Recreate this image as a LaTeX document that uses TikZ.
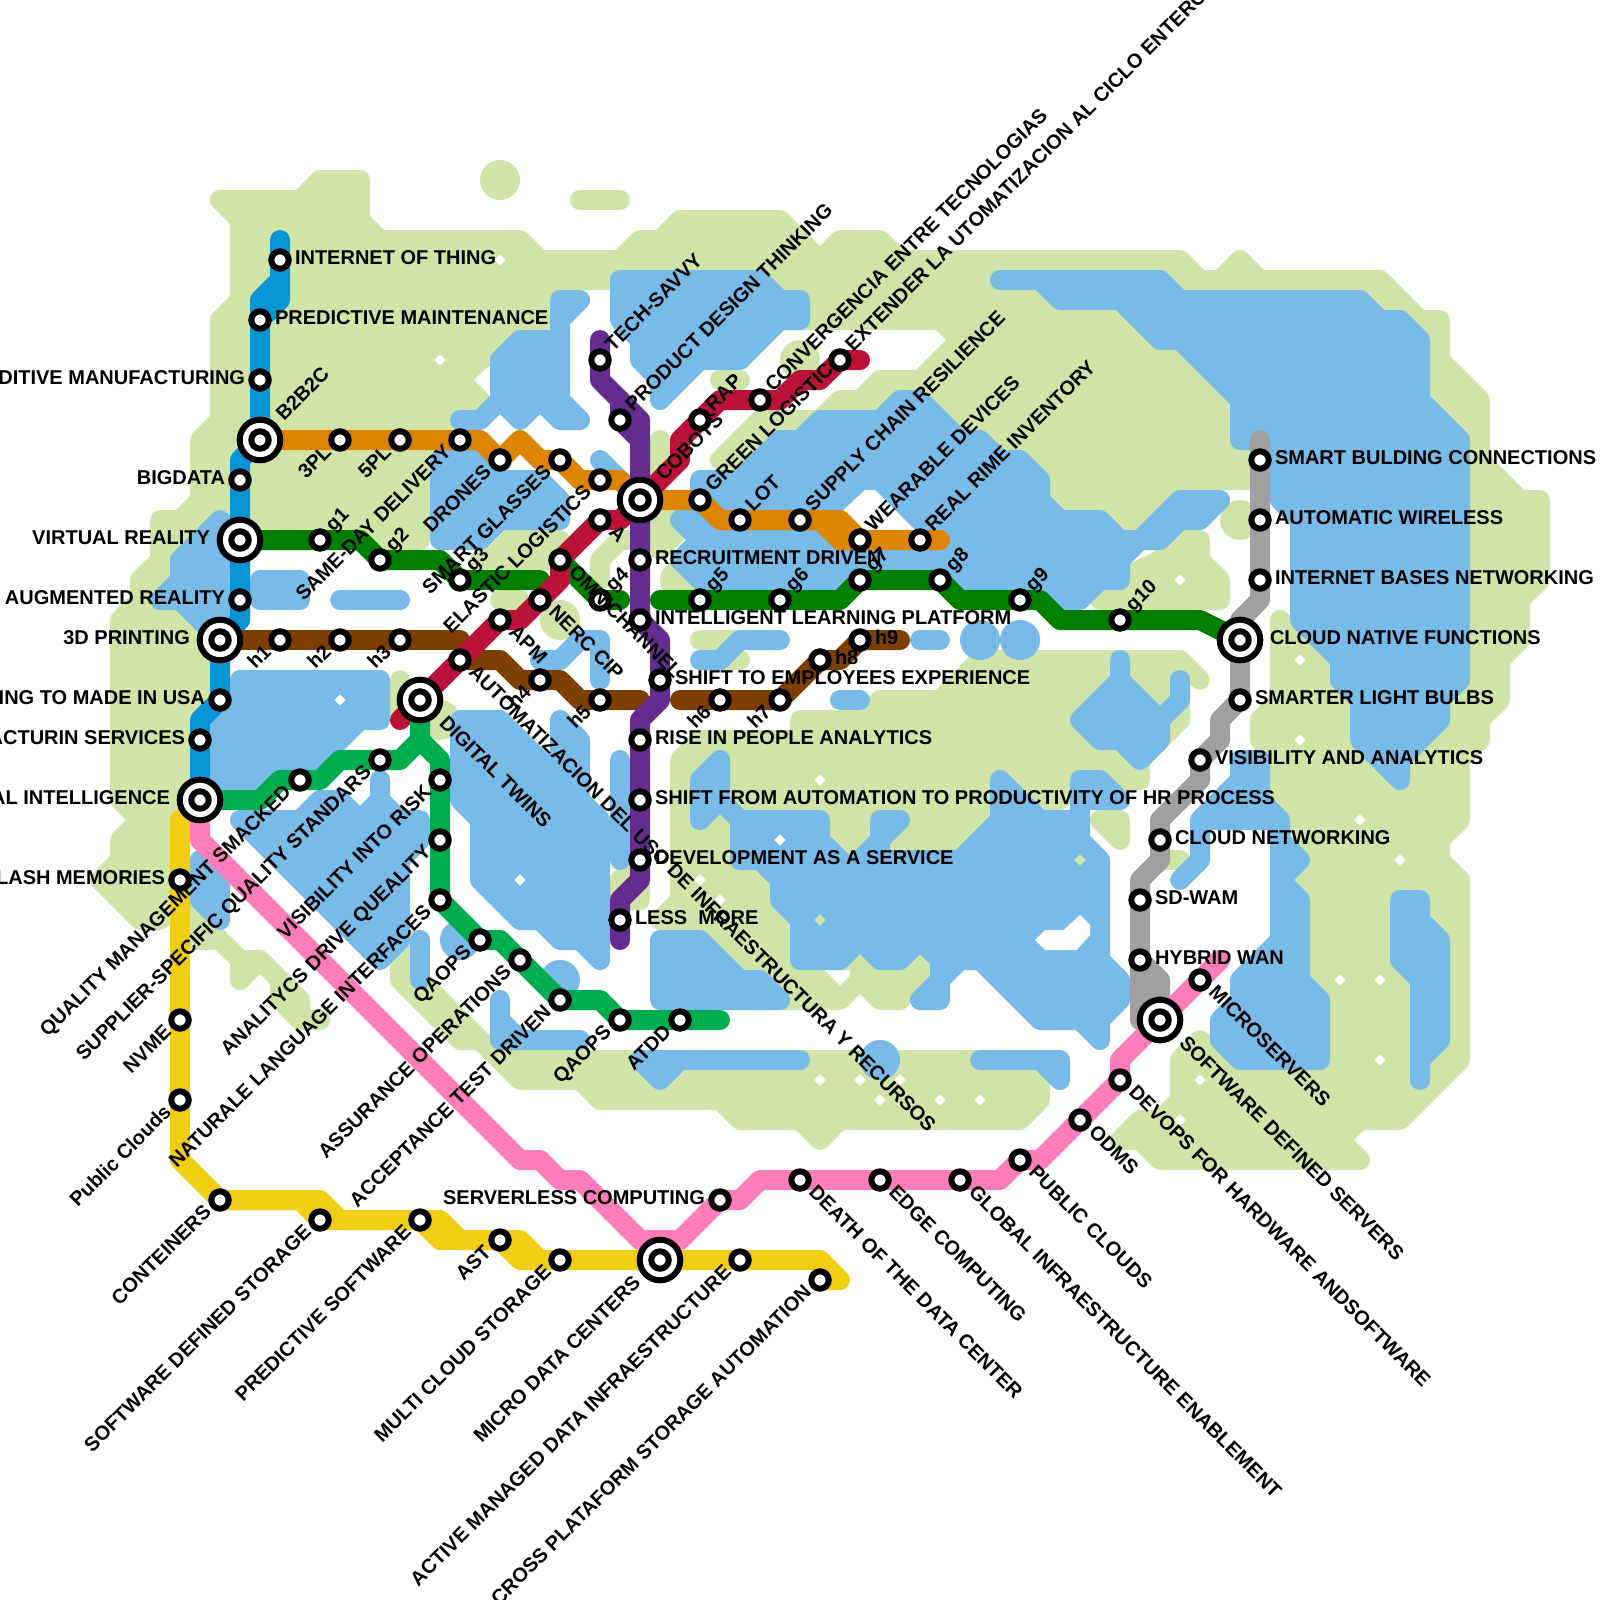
\documentclass[tikz,border=0pt]{standalone}
\usepackage{fontspec}
\setmainfont{Liberation Sans}
\usetikzlibrary{calc}
\pgfdeclarelayer{map}
\pgfsetlayers{map,main}
\definecolor{landc}{RGB}{208,228,168}
\definecolor{lakec}{RGB}{121,187,232}
\definecolor{lnblue}{RGB}{9,150,214}
\definecolor{lnorange}{RGB}{221,133,0}
\definecolor{lngreen}{RGB}{0,127,0}
\definecolor{lnbrown}{RGB}{124,63,0}
\definecolor{lnred}{RGB}{187,18,58}
\definecolor{lnpurple}{RGB}{101,44,144}
\definecolor{lnlime}{RGB}{0,174,80}
\definecolor{lnyellow}{RGB}{240,206,20}
\definecolor{lnpink}{RGB}{255,124,187}
\definecolor{lngray}{RGB}{160,160,160}

\begin{document}
\begin{tikzpicture}[
  x=20pt, y=-20pt,
  land/.style={fill=landc, draw=landc, line width=20pt, line join=round, line cap=round},
  lake/.style={fill=lakec, draw=lakec, line width=20pt, line join=round, line cap=round},
  landln/.style={draw=landc, line width=20pt, line join=round, line cap=round},
  lakeln/.style={draw=lakec, line width=20pt, line join=round, line cap=round},
  metro/.style={line width=20pt, line join=round, line cap=round},
  stn/.style={circle, draw=black, fill=white, line width=6pt, minimum size=17.4pt, inner sep=0pt, outer sep=0pt},
  hub/.style={circle, draw=black, fill=white, line width=6pt, minimum size=40.6pt, inner sep=0pt, outer sep=0pt,
              path picture={\draw[line width=6pt, fill=white] (path picture bounding box.center) circle (8.7pt);}},
  lb/.style={font=\fontsize{20}{24}\bfseries\selectfont, inner sep=0pt, outer sep=0pt},
  lbr/.style={lb, anchor=base west, xshift=15pt, yshift=-4pt},
  lbl/.style={lb, anchor=base east, xshift=-15pt, yshift=-4pt},
  lbrf/.style={lb, anchor=base west, xshift=30pt, yshift=-4pt},
  lblf/.style={lb, anchor=base east, xshift=-30pt, yshift=-4pt},
  lbur/.style={lb, anchor=base west, rotate=45, xshift=15pt, yshift=-4pt},
  lburf/.style={lb, anchor=base west, rotate=45, xshift=30pt, yshift=-4pt},
  lbdl/.style={lb, anchor=base east, rotate=45, xshift=-15pt, yshift=-4pt},
  lbdlf/.style={lb, anchor=base east, rotate=45, xshift=-30pt, yshift=-4pt},
  lbdr/.style={lb, anchor=base west, rotate=-45, xshift=15pt, yshift=-4pt},
  lbdrf/.style={lb, anchor=base west, rotate=-45, xshift=30pt, yshift=-4pt}
]
\useasboundingbox (0,0) rectangle (80,80);

% stations
\foreach \n/\x/\y/\s/\k/\t in {
  iot/14/13/stn/lbr/INTERNET OF THING, pm/13/16/stn/lbr/PREDICTIVE MAINTENANCE,
  am/13/19/stn/lbl/DITIVE MANUFACTURING, bb/13/22/hub/lburf/B2B2C,
  bd/12/24/stn/lbl/BIGDATA, vr/12/27/hub/lblf/VIRTUAL REALITY,
  ar/12/30/stn/lbl/AUGMENTED REALITY, tdp/11/32/hub/lblf/3D PRINTING,
  usa/11/35/stn/lbl/ING TO MADE IN USA, mfs/10/37/stn/lbl/ACTURIN SERVICES,
  ai/10/40/hub/lblf/AL INTELLIGENCE,
  tpl/17/22/stn/lbdl/3PL, fpl/20/22/stn/lbdl/5PL, sdd/23/22/stn/lbdl/SAME-DAY DELIVERY,
  drn/25/23/stn/lbdl/DRONES, sg/28/23/stn/lbdl/SMART GLASSES, el/30/24/stn/lbdl/ELASTIC LOGISTICS,
  cob/32/25/hub/lburf/COBOTS, gl/35/25/stn/lbur/GREEN LOGISTIC, lot/37/26/stn/lbur/LOT,
  scr/40/26/stn/lbur/SUPPLY CHAIN RESILIENCE, wd/43/27/stn/lbur/WEARABLE DEVICES,
  rri/46/27/stn/lbur/REAL RIME INVENTORY,
  g1/16/27/stn/lbur/g1, g2/19/28/stn/lbur/g2, g3/23/29/stn/lbur/g3, g4/30/30/stn/lbur/g4,
  g5/35/30/stn/lbur/g5, g6/39/30/stn/lbur/g6, g7/43/29/stn/lbur/g7, g8/47/29/stn/lbur/g8,
  g9/51/30/stn/lbur/g9, g10/56/31/stn/lbur/g10, cnf/62/32/hub/lbrf/CLOUD NATIVE FUNCTIONS,
  h1/14/32/stn/lbdl/h1, h2/17/32/stn/lbdl/h2, h3/20/32/stn/lbdl/h3, h4/27/34/stn/lbdl/h4,
  h5/30/35/stn/lbdl/h5, h6/36/35/stn/lbdl/h6, h7/39/35/stn/lbdl/h7, h8/41/33/stn/lbr/h8, h9/43/32/stn/lbr/h9,
  dt/21/35/hub/lbdrf/DIGITAL TWINS, auto/23/33/stn/lbdr/AUTOMATIZACION DEL USO DE INFRAESTRUCTURA Y RECURSOS,
  apm/25/31/stn/lbdr/APM, nerc/27/30/stn/lbdr/NERC CIP, omni/28/28/stn/lbdr/OMNICHANNEL, aa/30/26/stn/lbdr/A,
  rap/35/21/stn/lbur/RAP, conv/38/20/stn/lbur/CONVERGENCIA ENTRE TECNOLOGIAS,
  ext/42/18/stn/lbur/EXTENDER LA UTOMATIZACION AL CICLO ENTERO,
  tech/30/18/stn/lbur/TECH-SAVVY, pdt/31/21/stn/lbur/PRODUCT DESIGN THINKING,
  rec/32/28/stn/lbr/RECRUITMENT DRIVEN, ilp/32/31/stn/lbr/INTELLIGENT LEARNING PLATFORM,
  emp/33/34/stn/lbr/SHIFT TO EMPLOYEES EXPERIENCE, rise/32/37/stn/lbr/RISE IN PEOPLE ANALYTICS,
  hr/32/40/stn/lbr/SHIFT FROM AUTOMATION TO PRODUCTIVITY OF HR PROCESS,
  daas/32/43/stn/lbr/DEVELOPMENT AS A SERVICE, less/31/46/stn/lbr/LESS\ \ MORE,
  qms/15/39/stn/lbdl/QUALITY MANAGEMENT SMACKED, sqs/19/38/stn/lbdl/SUPPLIER-SPECIFIC QUALITY STANDARS,
  vir/22/39/stn/lbdl/VISIBILITY INTO RISK, adq/22/42/stn/lbdl/ANALITYCS DRIVE QUEALITY,
  nli/22/45/stn/lbdl/NATURALE LANGUAGE INTERFACES, qa1/24/47/stn/lbdl/QAOPS,
  aop/26/48/stn/lbdl/ASSURANCE OPERATIONS, atd/28/50/stn/lbdl/ACCEPTANCE TEST DRIVEN,
  qa2/31/51/stn/lbdl/QAOPS, atdd/34/51/stn/lbdl/ATDD,
  flash/9/44/stn/lbl/LASH MEMORIES, nvme/9/51/stn/lbdl/NVME, pub/9/55/stn/lbdl/Public Clouds,
  cont/11/60/stn/lbdl/CONTEINERS, sds/16/61/stn/lbdl/SOFTWARE DEFINED STORAGE,
  ps/21/61/stn/lbdl/PREDICTIVE SOFTWARE, ast/25/62/stn/lbdl/AST, mcs/28/63/stn/lbdl/MULTI CLOUD STORAGE,
  mdc/33/63/hub/lbdlf/MICRO DATA CENTERS, amd/37/63/stn/lbdl/ACTIVE MANAGED DATA INFRAESTRUCTURE,
  cps/41/64/stn/lbdl/CROSS PLATAFORM STORAGE AUTOMATION,
  sls/36/60/stn/lbl/SERVERLESS COMPUTING, dod/40/59/stn/lbdr/DEATH OF THE DATA CENTER,
  edg/44/59/stn/lbdr/EDGE COMPUTING, gie/48/59/stn/lbdr/GLOBAL INFRAESTRUCTURE ENABLEMENT,
  pcl/51/58/stn/lbdr/PUBLIC CLOUDS, odms/54/56/stn/lbdr/ODMS, devo/56/54/stn/lbdr/DEVOPS FOR HARDWARE ANDSOFTWARE,
  sdsv/58/51/hub/lbdrf/SOFTWARE DEFINED SERVERS, micro/60/49/stn/lbdr/MICROSERVERS,
  sbc/63/23/stn/lbr/SMART BULDING CONNECTIONS, awl/63/26/stn/lbr/AUTOMATIC WIRELESS,
  ibn/63/29/stn/lbr/INTERNET BASES NETWORKING, slb/62/35/stn/lbr/SMARTER LIGHT BULBS,
  vis/60/38/stn/lbr/VISIBILITY AND ANALYTICS, cnw/58/42/stn/lbr/CLOUD NETWORKING,
  sdw/57/45/stn/lbr/SD-WAM, hyb/57/48/stn/lbr/HYBRID WAN}
{
  \node[\s] (\n) at (\x,\y) {};
  \node[\k] (\n-t) at (\x,\y) {\t};
}

\begin{pgfonlayer}{map}
% land
\draw[land] plot coordinates {(11,10) (15,10) (16,9) (18,9) (18,11) (19,12) (26,12) (27,13) (31,13) (32,12) (33,12) (34,11) (39,11) (41,13) (42,12) (44,12) (45,13) (59,13) (60,14) (61,14) (62,13) (63,14) (69,14) (71,16) (72,16) (72,18) (74,20) (74,23) (76,25) (77,25) (77,29) (76,30) (76,32) (75,33) (75,35) (74,36) (74,37) (73,38) (73,41) (72,42) (72,43) (73,44) (73,53) (70,56) (68,56) (67,57) (68,58) (58,58) (57,57) (56,57) (57,56) (58,56) (59,55) (59,53) (60,52) (61,53) (63,52) (65,48) (65,41) (64,40) (64,38) (63,37) (63,36) (64,35) (64,31) (65,32) (65,24) (60,24) (59,25) (56,27) (50,27) (48,24) (44,24) (41,24) (39,23) (36,23) (38,21) (41,21) (42,20) (43,20) (44,19) (46,19) (48,17) (47,16) (40,16) (38,14) (30,14) (28,14) (28,16) (26,17) (24,18) (23,19) (24,20) (22,22) (21,23) (21,27) (12,27) (12,31) (10,33) (10,40) (9,41) (9,45) (8,46) (7,46) (5,44) (6,43) (6,42) (7,41) (6,40) (6,31) (7,30) (7,29) (8,28) (8,26) (9,26) (10,25) (10,22) (11,21) (11,16) (12,15) (12,11)} -- cycle;
\draw[land] plot coordinates {(34,38) (35,37) (39,37) (40,37) (40,36) (43,36) (44,35) (47,35) (49,33) (59,33) (60,34) (59,33) (59,36) (58,37) (57,38) (57,39) (54,39) (53,40) (52,40) (50,46) (48,48) (40,48) (38,48) (37,48) (35,46) (33,46) (34,45)} -- cycle;
\draw[land] plot coordinates {(43,48) (46,48) (46,49) (45,50) (44,50) (43,49)} -- cycle;
\draw[land] plot coordinates {(38,48) (40,48) (41,49) (42,50) (43,49) (42,50) (38,50)} -- cycle;
\draw[land] plot coordinates {(20,47) (20,49) (23,52) (24,52) (26,54) (29,54) (30,55) (36,55) (37,56) (40,56) (41,57) (42,56) (51,56) (52,55) (52,54) (51,53) (25,53) (21,49) (21,47)} -- cycle;
\draw[land] plot coordinates {(9,45) (12,48) (13,48) (15,50) (15,51) (16,51) (15,51) (14,50) (14,49) (13,48) (12,49) (12,48) (11,47) (9,47)} -- cycle;
\draw[land] plot coordinates {(59,27) (60,27) (60,28) (61,29) (61,30) (55,30) (56,29) (58,28)} -- cycle;
\draw[land] plot coordinates {(25,27) (28,27) (28,28) (24,28)} -- cycle;
\draw[land] plot coordinates {(33,26) (34,26) (34,26.5) (33,27.5)} -- cycle;
\draw[land] plot coordinates {(55,41) (56,41) (56,42)} -- cycle;
\draw[land] plot coordinates {(31,44) (32,43) (32,45) (31,45)} -- cycle;
\draw[landln] (30,29) -- (30,28) -- (31,27) -- (32,27);
\draw[landln] (29,10) -- (31,10);
\draw[landln] (25,30) -- (26,30);
\draw[landln] (33,22) -- (33,24);
\draw[landln] (35,32) -- (37,32);
\draw[landln] (36,33) -- (37,33);
\draw[landln] (20,34) -- (20,36);
\draw[landln] (36,19) -- (37,19);
\draw[landln] (58,43) -- (59,43);
\foreach \x/\y in {25/9, 28/31, 34/29, 22/36, 40/18, 62/26}
  \fill[landc] (\x,\y) circle (20pt);

% water
\draw[lake] plot coordinates {(28,15) (29,15) (28,16) (28,20) (29,21) (28,21) (27,20) (26,21) (25,20) (24,21) (23,21) (24,21) (25,20) (25,18) (26,17) (28,17)} -- cycle;
\draw[lake] plot coordinates {(31,14) (38,14) (39,15) (40,15) (40,16) (39,16) (37,18) (35,18) (33,20) (33,19) (32,18) (32,17) (31,16)} -- cycle;
\draw[lake] plot coordinates {(35,24) (37,24) (39,22) (40,22) (41,21) (44,21) (45,20) (46,20) (48,22) (49,22) (50,23) (51,23) (52,24) (52,25) (53,26) (55,26) (56,27) (57,27) (59,25) (61,25) (60,26) (59,26) (58,27) (57,27) (56,28) (56,29) (55,29) (54,30) (52,30) (51,29) (48,29) (47,28) (43,28) (42,29) (35,29) (34,28) (35,27) (34,26) (35,25)} -- cycle;
\draw[lake] plot coordinates {(22,23) (24,23) (25,24) (27,24) (28,25) (28,26) (25,26) (24,27) (22,27)} -- cycle;
\draw[lake] plot coordinates {(13,29) (15,29) (15,30) (13,30)} -- cycle;
\draw[lake] plot coordinates {(11,26) (12,27) (12,31) (11,32) (9,30) (8,30) (9,29) (9,28)} -- cycle;
\draw[lake] plot coordinates {(12,34) (19,34) (19,36) (18,36) (17,37) (15,39) (13,39) (11,40) (11,36) (12,35)} -- cycle;
\draw[lake] plot coordinates {(12,41) (15,41) (16,40) (17,40) (18,41) (19,40) (19,39) (19,40) (20,41) (21,41) (21,42) (20,43) (20,47) (19,48)} -- cycle;
\draw[lake] plot coordinates {(10,43) (11,44) (11,46) (10,45)} -- cycle;
\draw[lake] plot coordinates {(23,36) (25,36) (28,39) (28,36) (29,37) (29,40) (30,41) (30,48) (29,47) (28,47) (27,46) (26,46) (24,44) (24,41) (23,40)} -- cycle;
\draw[lake] plot coordinates {(33,47) (35,47) (37,49) (38,49) (39,50) (33,50)} -- cycle;
\draw[lake] plot coordinates {(36,38) (35,39) (35,41) (36,40) (37,41) (37,43) (38,43) (39,44) (39,45) (40,46) (40,48) (42,48) (43,47) (44,48) (45,48) (46,47) (47,48) (47,49) (46,50) (47,50) (47,49) (48,48) (49,48) (52,51) (54,51) (55,52) (55,51) (56,50) (56,49) (55,48) (55,43) (54,42) (54,41) (52,41) (50,39) (50,41) (48,43) (44,43) (44,42) (45,41) (44,41) (44,42) (42.5,43.5) (41,42) (41,41) (37,41) (36,40)} -- cycle;
\draw[lake] plot coordinates {(54,39) (55,39) (56,40) (54,40) (54,41)} -- cycle;
\draw[lake] plot coordinates {(49,53) (53,53) (53,54) (52,53)} -- cycle;
\draw[lake] plot coordinates {(32,53) (40,53) (34,53) (33,54)} -- cycle;
\draw[lake] plot coordinates {(50,14) (58,14) (59,15) (68,15) (69,16) (70,16) (71,17) (71,20) (73,22) (73,34) (72,35) (72,36) (70,38) (70,39) (68,37) (68,35) (67,34) (67,33) (65,31) (65,26) (64,25) (64,22) (62,22) (62,20) (59,17) (58,17) (56,15) (53,15) (52,14)} -- cycle;
\draw[lake] plot coordinates {(62,38) (63,38) (63,40) (64,41) (64,42) (65,43) (64,44) (65,45) (65,49) (66,50) (66,53) (62,53) (61,52) (61,51) (62,50) (62,49) (64,47) (64,41) (60,41) (60,43) (59,44) (60,43) (60,41) (62,39)} -- cycle;
\draw[lake] plot coordinates {(70,45) (71,45) (71,46) (72,47) (72,52) (71,53) (71,54) (71,49) (70,48)} -- cycle;
\draw[lake] plot coordinates {(56,33) (56,34) (58,36) (59,35) (59,34) (59,35) (58,36) (58,37) (57,38) (56,37) (55,37) (54,36) (56,34)} -- cycle;
\draw[lakeln] (17,30) -- (20,30);
\draw[lakeln] (21,47) -- (21,49);
\draw[lakeln] (31,38) -- (31,43);
\draw[lakeln] (25,50) -- (25,51) -- (26,52) -- (29,52) -- (25,52) -- (25,50);
\draw[lakeln] (30,23) -- (32,25);
\draw[lakeln] (35,33) -- (36,33) -- (37,32) -- (39,32);
\draw[lakeln] (27,33) -- (28,33) -- (29,32) -- (30,32) -- (30,34);
\draw[lakeln] (42,35) -- (43,35);
\draw[lakeln] (46,32) -- (47,32);
\foreach \x/\y in {23/47, 28/49, 49/32, 51/32, 44/53}
  \fill[lakec] (\x,\y) circle (20pt);

% white gaps in the water
\fill[white] (42.17,25.5) -- (43.25,24.5) -- (43.75,24.5) -- (45.75,26.5) -- (42.17,26.5) -- cycle;
\fill[white] (51.75,47) -- (52.25,46.5) -- (53.17,46.5) -- (54,45.75) -- (54.5,46.25) -- (54.5,46.75) -- (53.83,47.5) -- (52.25,47.5) -- cycle;

% little islands
\foreach \x/\y in {25/13, 22/18, 59/29, 65/33, 65/37, 68/41, 70/43, 67/49, 69/49, 69/53, 60/54, 59/56, 17/35, 26/44, 41/54, 43/54, 45/54, 44/55, 47/55, 49/55, 39/42, 41/39, 35/44, 36/45}
  \fill[white] (\x-.28,\y) -- (\x,\y-.28) -- (\x+.28,\y) -- (\x,\y+.28) -- cycle;
\foreach \x/\y in {41/46, 54/43}
  \fill[landc] (\x-.28,\y) -- (\x,\y-.28) -- (\x+.28,\y) -- (\x,\y+.28) -- cycle;

% lines
\draw[metro, lnblue] (14,12) -- (iot.center) -- (14,15) -- (pm.center);
\draw[metro, lnblue] (14,14) -- (13,15) -- (pm.center) -- (am.center) -- (bb.center) -- (12,23) -- (bd.center) -- (vr.center) -- (ar.center) -- (12,31) -- (tdp.center) -- (usa.center) -- (10,36) -- (mfs.center) -- (ai.center);
\draw[metro, lnorange] (bb.center) -- (tpl.center) -- (fpl.center) -- (sdd.center) -- (24,22) -- (drn.center) -- (26,22) -- (27,23) -- (sg.center) -- (29,24) -- (el.center) -- (31,24) -- (cob.center) -- (gl.center) -- (36,26) -- (lot.center) -- (scr.center) -- (42,26) -- (wd.center) -- (rri.center) -- (47,27);
\draw[metro, lnorange] (scr.center) -- (41,26) -- (42,27) -- (wd.center);
\draw[metro, lngreen] (vr.center) -- (g1.center) -- (18,27) -- (g2.center) -- (22,28) -- (g3.center) -- (27,29);
\draw[metro, lngreen] (omni.center) -- (g4.center) -- (31,30);
\draw[metro, lngreen] (33,30) -- (g5.center) -- (g6.center) -- (42,30) -- (g7.center) -- (g8.center) -- (48,30) -- (g9.center) -- (52,30) -- (53,31) -- (g10.center) -- (60,31) -- (cnf.center);
\draw[metro, lnbrown] (tdp.center) -- (h1.center) -- (h2.center) -- (h3.center) -- (23,32);
\draw[metro, lnbrown] (auto.center) -- (25,33) -- (26,34) -- (h4.center) -- (28,34) -- (29,35) -- (h5.center) -- (32,35);
\draw[metro, lnbrown] (34,35) -- (h6.center) -- (h7.center) -- (h8.center) -- (42,33) -- (h9.center) -- (45,32);
\draw[metro, lnred] (20,36) -- (dt.center) -- (auto.center) -- (apm.center) -- (26,31) -- (nerc.center) -- (28,29) -- (omni.center) -- (aa.center) -- (31,26) -- (cob.center) -- (34,23) -- (34,22) -- (rap.center) -- (36,20) -- (conv.center) -- (39,20) -- (40,19) -- (41,19) -- (ext.center) -- (43,18);
\draw[metro, lnpurple] (30,17) -- (tech.center) -- (30,19) -- (31,20) -- (pdt.center) -- (32,22) -- (cob.center) -- (rec.center) -- (ilp.center) -- (33,32) -- (emp.center) -- (33,35) -- (32,36) -- (rise.center) -- (hr.center) -- (daas.center) -- (32,44) -- (31,45) -- (less.center) -- (31,47);
\draw[metro, lnpurple] (31,20) -- (32,21) -- (32,22);
\draw[metro, lnlime] (ai.center) -- (13,40) -- (14,39) -- (qms.center) -- (16,39) -- (17,38) -- (sqs.center) -- (20,38) -- (21,37);
\draw[metro, lnlime] (dt.center) -- (21,37) -- (22,38) -- (vir.center) -- (adq.center) -- (nli.center) -- (qa1.center) -- (25,47) -- (aop.center) -- (atd.center) -- (30,50) -- (qa2.center) -- (atdd.center) -- (36,51);
\draw[metro, lnyellow] (9,41) -- (flash.center) -- (nvme.center) -- (pub.center) -- (9,58) -- (cont.center) -- (16,60) -- (17,61) -- (ps.center) -- (22,61) -- (23,62) -- (ast.center) -- (26,62) -- (27,63) -- (mcs.center) -- (mdc.center) -- (amd.center) -- (41,63) -- (42,64) -- (cps.center);
\draw[metro, lnyellow] (cont.center) -- (15,60) -- (sds.center) -- (ps.center) -- (22,62) -- (ast.center) -- (26,63) -- (mcs.center);
\draw[metro, lngray] (63,22) -- (sbc.center) -- (awl.center) -- (ibn.center) -- (63,30) -- (62,31) -- (cnf.center) -- (slb.center) -- (61,36) -- (61,37) -- (vis.center) -- (60,39) -- (58,41) -- (cnw.center) -- (58,43) -- (57,44) -- (sdw.center) -- (hyb.center) -- (57,51) -- (sdsv.center);
\draw[metro, lngray] (hyb.center) -- (58,49) -- (sdsv.center);
\draw[metro, lnpink] (ai.center) -- (10,42) -- (26,58) -- (27,58) -- (28,59) -- (29,59) -- (32,62) -- (34,62) -- (sls.center) -- (37,60) -- (38,59) -- (dod.center) -- (edg.center) -- (gie.center) -- (50,59) -- (pcl.center) -- (52,58) -- (odms.center) -- (devo.center) -- (56,53) -- (sdsv.center) -- (micro.center) -- (61,48);
\end{pgfonlayer}
\end{tikzpicture}
\end{document}
